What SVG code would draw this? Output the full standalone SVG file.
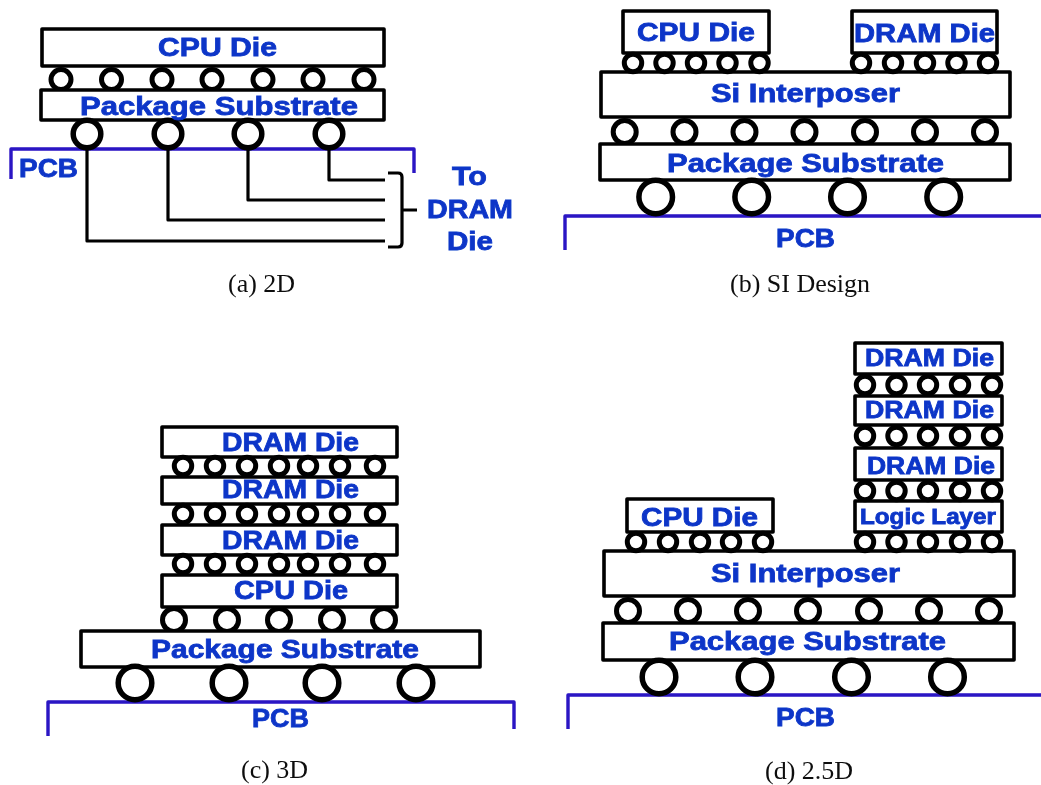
<svg xmlns="http://www.w3.org/2000/svg" width="1041" height="785" viewBox="0 0 1041 785">
<defs><filter id="soft" x="-2%" y="-2%" width="104%" height="104%"><feGaussianBlur stdDeviation="0.45"/></filter></defs>
<style>
.r{fill:#fff;stroke:#000;stroke-width:3.600;stroke-linejoin:round}
.s{fill:#fff;stroke:#000;stroke-width:5}
.m{fill:#fff;stroke:#000;stroke-width:5}
.b{fill:#fff;stroke:#000;stroke-width:5.500}
.w{fill:none;stroke:#000;stroke-width:3.200;stroke-linejoin:round}
.p{fill:none;stroke:#2a14c4;stroke-width:3.400;stroke-linejoin:round}
.t{font-family:"Liberation Sans",Arial,sans-serif;font-weight:700;fill:#0c36c8;stroke:#0c36c8;stroke-width:.8;font-size:26px}
.n{font-size:23.500px}
.l{font-size:21.500px}
.c{font-family:"Liberation Serif","Times New Roman",serif;font-size:26px;fill:#111}
</style>
<rect width="1041" height="785" fill="#fff"/>
<g filter="url(#soft)">
<g id="connectors">
<path class="p" d="M11 179V149H414V173"/>
<path class="w" d="M87 150V241H385M168 150V220H385M248 150V200H385M329 150V180H385"/>
<path class="w" d="M388 173H398Q402 173 402 177V243Q402 247 398 247H388M402 210H417"/>
<path class="p" d="M565 250V216H1041"/>
<path class="p" d="M48 736V702H514V729"/>
<path class="p" d="M568 729V695H1041"/>
</g>
<g id="a-cpu"><rect class="r" x="42" y="29" width="342" height="37"/></g>
<g id="a-bumps"><circle class="s" cx="61" cy="79.500" r="10"/><circle class="s" cx="111.500" cy="79.500" r="10"/><circle class="s" cx="162" cy="79.500" r="10"/><circle class="s" cx="212" cy="79.500" r="10"/><circle class="s" cx="263" cy="79.500" r="10"/><circle class="s" cx="313" cy="79.500" r="10"/><circle class="s" cx="364" cy="79.500" r="10"/></g>
<g id="a-pkg"><rect class="r" x="41" y="90" width="343" height="30"/></g>
<g id="a-balls"><circle class="b" cx="87" cy="134" r="13.800"/><circle class="b" cx="168" cy="134" r="13.800"/><circle class="b" cx="248" cy="134" r="13.800"/><circle class="b" cx="329" cy="134" r="13.800"/></g>
<text class="t" x="158" y="56" textLength="119" lengthAdjust="spacingAndGlyphs">CPU Die</text>
<text class="t" x="80" y="114.500" textLength="278" lengthAdjust="spacingAndGlyphs">Package Substrate</text>
<text class="t" id="a-pcb" x="19" y="176.500" textLength="59" lengthAdjust="spacingAndGlyphs">PCB</text>
<g id="a-to"><text class="t" x="452" y="185" textLength="35" lengthAdjust="spacingAndGlyphs">To</text><text class="t" x="427" y="218" textLength="86" lengthAdjust="spacingAndGlyphs">DRAM</text><text class="t" x="447" y="250" textLength="46" lengthAdjust="spacingAndGlyphs">Die</text></g>
<text class="c" x="228" y="292">(a) 2D</text>

<g id="b-cpu"><rect class="r" x="623" y="11" width="146" height="42"/></g>
<g id="b-dram"><rect class="r" x="852" y="11" width="145" height="42"/></g>
<g id="b-interposer"><rect class="r" x="601" y="72" width="409" height="45"/></g>
<g id="b-bumps"><circle class="s" cx="633" cy="63" r="8.700"/><circle class="s" cx="664.500" cy="63" r="8.700"/><circle class="s" cx="696" cy="63" r="8.700"/><circle class="s" cx="727.500" cy="63" r="8.700"/><circle class="s" cx="759.500" cy="63" r="8.700"/><circle class="s" cx="861" cy="63" r="8.700"/><circle class="s" cx="893" cy="63" r="8.700"/><circle class="s" cx="925" cy="63" r="8.700"/><circle class="s" cx="956.500" cy="63" r="8.700"/><circle class="s" cx="988" cy="63" r="8.700"/>
<circle class="m" cx="624.700" cy="132" r="11.500"/><circle class="m" cx="684.500" cy="132" r="11.500"/><circle class="m" cx="744.500" cy="132" r="11.500"/><circle class="m" cx="804.500" cy="132" r="11.500"/><circle class="m" cx="865" cy="132" r="11.500"/><circle class="m" cx="925" cy="132" r="11.500"/><circle class="m" cx="985" cy="132" r="11.500"/></g>
<g id="b-pkg"><rect class="r" x="600" y="144" width="410" height="36"/></g>
<g id="b-balls"><circle class="b" cx="655.700" cy="197" r="16.800"/><circle class="b" cx="751.700" cy="197" r="16.800"/><circle class="b" cx="847.500" cy="197" r="16.800"/><circle class="b" cx="943.700" cy="197" r="16.800"/></g>
<text class="t" x="637" y="40.700" textLength="118" lengthAdjust="spacingAndGlyphs">CPU Die</text>
<text class="t" x="854" y="41.700" textLength="141" lengthAdjust="spacingAndGlyphs">DRAM Die</text>
<text class="t" x="711" y="101.700" textLength="189" lengthAdjust="spacingAndGlyphs">Si Interposer</text>
<text class="t" x="667" y="171.700" textLength="277" lengthAdjust="spacingAndGlyphs">Package Substrate</text>
<text class="t" id="b-pcb" x="776" y="247.300" textLength="59" lengthAdjust="spacingAndGlyphs">PCB</text>
<text class="c" x="730" y="292">(b) SI Design</text>

<g id="c-dram1"><rect class="r" x="162" y="427" width="235" height="30"/></g>
<g id="c-dram2"><rect class="r" x="162" y="477" width="235" height="27"/></g>
<g id="c-dram3"><rect class="r" x="162" y="525" width="235" height="30"/></g>
<g id="c-cpu"><rect class="r" x="162" y="575" width="235" height="32"/></g>
<g id="c-bumps">
<circle class="s" cx="183" cy="466" r="8.700"/><circle class="s" cx="215" cy="466" r="8.700"/><circle class="s" cx="247" cy="466" r="8.700"/><circle class="s" cx="279" cy="466" r="8.700"/><circle class="s" cx="308" cy="466" r="8.700"/><circle class="s" cx="340" cy="466" r="8.700"/><circle class="s" cx="375" cy="466" r="8.700"/>
<circle class="s" cx="183" cy="514" r="8.700"/><circle class="s" cx="215" cy="514" r="8.700"/><circle class="s" cx="247" cy="514" r="8.700"/><circle class="s" cx="279" cy="514" r="8.700"/><circle class="s" cx="308" cy="514" r="8.700"/><circle class="s" cx="340" cy="514" r="8.700"/><circle class="s" cx="375" cy="514" r="8.700"/>
<circle class="s" cx="183" cy="564" r="8.700"/><circle class="s" cx="215" cy="564" r="8.700"/><circle class="s" cx="247" cy="564" r="8.700"/><circle class="s" cx="279" cy="564" r="8.700"/><circle class="s" cx="308" cy="564" r="8.700"/><circle class="s" cx="340" cy="564" r="8.700"/><circle class="s" cx="375" cy="564" r="8.700"/>
<circle class="m" cx="174" cy="620" r="11.500"/><circle class="m" cx="227" cy="620" r="11.500"/><circle class="m" cx="279" cy="620" r="11.500"/><circle class="m" cx="332" cy="620" r="11.500"/><circle class="m" cx="384" cy="620" r="11.500"/></g>
<g id="c-pkg"><rect class="r" x="81" y="631" width="399" height="36"/></g>
<g id="c-balls"><circle class="b" cx="135" cy="683" r="16.800"/><circle class="b" cx="229" cy="683" r="16.800"/><circle class="b" cx="322" cy="683" r="16.800"/><circle class="b" cx="416" cy="683" r="16.800"/></g>
<text class="t" x="222" y="451" textLength="137" lengthAdjust="spacingAndGlyphs">DRAM Die</text>
<text class="t" x="222" y="498.300" textLength="137" lengthAdjust="spacingAndGlyphs">DRAM Die</text>
<text class="t" x="222" y="549.300" textLength="137" lengthAdjust="spacingAndGlyphs">DRAM Die</text>
<text class="t" x="234" y="599.300" textLength="114" lengthAdjust="spacingAndGlyphs">CPU Die</text>
<text class="t" x="151" y="658.300" textLength="268" lengthAdjust="spacingAndGlyphs">Package Substrate</text>
<text class="t" id="c-pcb" x="252" y="726.700" textLength="57" lengthAdjust="spacingAndGlyphs">PCB</text>
<text class="c" x="241" y="778">(c) 3D</text>

<g id="d-dram1"><rect class="r" x="855" y="343" width="147" height="31"/></g>
<g id="d-dram2"><rect class="r" x="855" y="396" width="147" height="29"/></g>
<g id="d-dram3"><rect class="r" x="855" y="448" width="147" height="32"/></g>
<g id="d-logic"><rect class="r" x="855" y="501" width="147" height="31"/></g>
<g id="d-cpu"><rect class="r" x="627" y="499" width="146" height="33"/></g>
<g id="d-interposer"><rect class="r" x="604" y="551" width="410" height="45"/></g>
<g id="d-bumps">
<circle class="s" cx="865" cy="385" r="8.700"/><circle class="s" cx="896.500" cy="385" r="8.700"/><circle class="s" cx="928" cy="385" r="8.700"/><circle class="s" cx="960" cy="385" r="8.700"/><circle class="s" cx="992" cy="385" r="8.700"/>
<circle class="s" cx="865" cy="436" r="8.700"/><circle class="s" cx="896.500" cy="436" r="8.700"/><circle class="s" cx="928" cy="436" r="8.700"/><circle class="s" cx="960" cy="436" r="8.700"/><circle class="s" cx="992" cy="436" r="8.700"/>
<circle class="s" cx="865" cy="491" r="8.700"/><circle class="s" cx="896.500" cy="491" r="8.700"/><circle class="s" cx="928" cy="491" r="8.700"/><circle class="s" cx="960" cy="491" r="8.700"/><circle class="s" cx="992" cy="491" r="8.700"/>
<circle class="s" cx="865" cy="542" r="8.700"/><circle class="s" cx="896.500" cy="542" r="8.700"/><circle class="s" cx="928" cy="542" r="8.700"/><circle class="s" cx="960" cy="542" r="8.700"/><circle class="s" cx="992" cy="542" r="8.700"/>
<circle class="s" cx="636" cy="542" r="8.700"/><circle class="s" cx="668" cy="542" r="8.700"/><circle class="s" cx="700" cy="542" r="8.700"/><circle class="s" cx="731" cy="542" r="8.700"/><circle class="s" cx="763" cy="542" r="8.700"/>
<circle class="m" cx="628" cy="611" r="11.500"/><circle class="m" cx="688" cy="611" r="11.500"/><circle class="m" cx="748" cy="611" r="11.500"/><circle class="m" cx="808" cy="611" r="11.500"/><circle class="m" cx="869" cy="611" r="11.500"/><circle class="m" cx="929" cy="611" r="11.500"/><circle class="m" cx="989" cy="611" r="11.500"/></g>
<g id="d-pkg"><rect class="r" x="603" y="623" width="411" height="37"/></g>
<g id="d-balls"><circle class="b" cx="659" cy="677" r="16.800"/><circle class="b" cx="755" cy="677" r="16.800"/><circle class="b" cx="851.500" cy="677" r="16.800"/><circle class="b" cx="947.500" cy="677" r="16.800"/></g>
<text class="t n" x="865" y="365.500" textLength="129" lengthAdjust="spacingAndGlyphs">DRAM Die</text>
<text class="t n" x="865" y="418.300" textLength="129" lengthAdjust="spacingAndGlyphs">DRAM Die</text>
<text class="t n" x="867" y="474.300" textLength="128" lengthAdjust="spacingAndGlyphs">DRAM Die</text>
<text class="t l" x="860" y="524.300" textLength="136" lengthAdjust="spacingAndGlyphs">Logic Layer</text>
<text class="t" x="641" y="525.700" textLength="117" lengthAdjust="spacingAndGlyphs">CPU Die</text>
<text class="t" x="711" y="581.700" textLength="189" lengthAdjust="spacingAndGlyphs">Si Interposer</text>
<text class="t" x="669" y="650" textLength="277" lengthAdjust="spacingAndGlyphs">Package Substrate</text>
<text class="t" id="d-pcb" x="776" y="725.700" textLength="59" lengthAdjust="spacingAndGlyphs">PCB</text>
<text class="c" x="765" y="779">(d) 2.5D</text>
</g>
</svg>
